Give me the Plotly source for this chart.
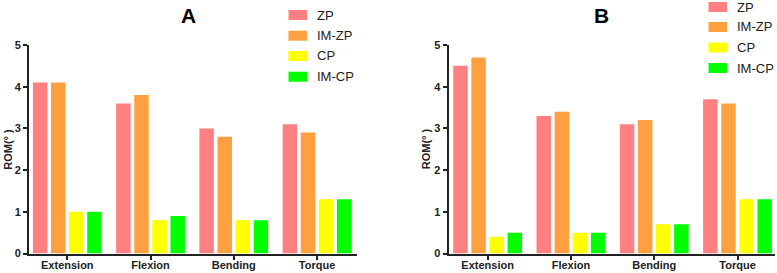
import plotly.graph_objects as go

categories = ["Extension", "Flexion", "Bending", "Torque"]
series_names = ["ZP", "IM-ZP", "CP", "IM-CP"]

# Panel A values
a_zp = [4.1, 3.6, 3.0, 3.1]
a_imzp = [4.1, 3.8, 2.8, 2.9]
a_cp = [1.0, 0.8, 0.8, 1.3]
a_imcp = [1.0, 0.9, 0.8, 1.3]

# Panel B values
b_zp = [4.5, 3.3, 3.1, 3.7]
b_imzp = [4.7, 3.4, 3.2, 3.6]
b_cp = [0.4, 0.5, 0.7, 1.3]
b_imcp = [0.5, 0.5, 0.7, 1.3]

y_ticks = [0, 1, 2, 3, 4, 5]
panel_titles = ["A", "B"]
y_title = "ROM(° )"

colors = ["#FF8080", "#FFA040", "#FFFF00", "#00FF00"]

W, H = 777, 273
FONT = "Liberation Sans, Arial, sans-serif"

fig = go.Figure()
for vals_set, xa, ya in [((a_zp, a_imzp, a_cp, a_imcp), "x", "y"),
                         ((b_zp, b_imzp, b_cp, b_imcp), "x2", "y2")]:
    for name, vals, c in zip(series_names, vals_set, colors):
        fig.add_trace(go.Bar(x=categories, y=vals, name=name, marker_color=c,
                             marker_line_width=0, xaxis=xa, yaxis=ya,
                             showlegend=False, offsetgroup=name))

axis_common = dict(showline=True, linewidth=2, linecolor="#222", ticks="outside",
                   ticklen=4, tickwidth=1.5, tickcolor="#222", showgrid=False,
                   zeroline=False, automargin=False,
                   tickfont=dict(family=FONT, size=11, color="#222", weight="bold"))

y_bot = 1 - 253.5 / H
y_top = 1 - 45 / H

fig.update_layout(
    width=W, height=H,
    margin=dict(l=0, r=0, t=0, b=0, autoexpand=False),
    paper_bgcolor="white", plot_bgcolor="white",
    barmode="group", bargap=0.13, bargroupgap=0.2,
    showlegend=False,
    xaxis=dict(domain=[29 / W, 357 / W], range=[-0.46, 3.48], anchor="y",
               ticklabelstandoff=-4, **axis_common),
    yaxis=dict(domain=[y_bot, y_top], range=[0, 5], tickvals=y_ticks, anchor="x",
               **axis_common),
    xaxis2=dict(domain=[448.5 / W, 775 / W], range=[-0.47, 3.45], anchor="y2",
                ticklabelstandoff=-4, **axis_common),
    yaxis2=dict(domain=[y_bot, y_top], range=[0, 5], tickvals=y_ticks, anchor="x2",
                **axis_common),
)

annotations = []
shapes = []
# panel titles
for t, xc in zip(panel_titles, [188.5, 601.5]):
    annotations.append(dict(text=f"<b>{t}</b>", x=xc / W, y=1 - 15 / H, xref="paper", yref="paper",
                            showarrow=False, xanchor="center", yanchor="middle",
                            font=dict(family=FONT, size=21, color="black")))
# y titles
for xc in [8.5, 426]:
    annotations.append(dict(text=f"<b>{y_title}</b>", x=xc / W, y=(y_bot + y_top) / 2,
                            xref="paper", yref="paper", showarrow=False, textangle=-90,
                            xanchor="center", yanchor="middle",
                            font=dict(family=FONT, size=11, color="#222")))
# legends
for sx, tx, row_centers in [(288.5, 315, [15, 35.7, 56, 76.7]),
                            (708.5, 735, [7, 27, 47.5, 68])]:
    for name, c, yc in zip(series_names, colors, row_centers):
        shapes.append(dict(type="rect", xref="paper", yref="paper",
                           x0=sx / W, x1=(sx + 18.5) / W,
                           y0=1 - (yc + 5) / H, y1=1 - (yc - 5) / H,
                           fillcolor=c, line=dict(width=0)))
        annotations.append(dict(text=name, x=tx / W, y=1 - yc / H, xref="paper", yref="paper",
                                showarrow=False, xanchor="left", yanchor="middle",
                                font=dict(family=FONT, size=13, color="#222")))

fig.update_layout(annotations=annotations, shapes=shapes)
fig.write_html("out.html", config={"displayModeBar": False},
               post_script="document.body.style.margin='0';document.body.style.overflow='hidden';")
